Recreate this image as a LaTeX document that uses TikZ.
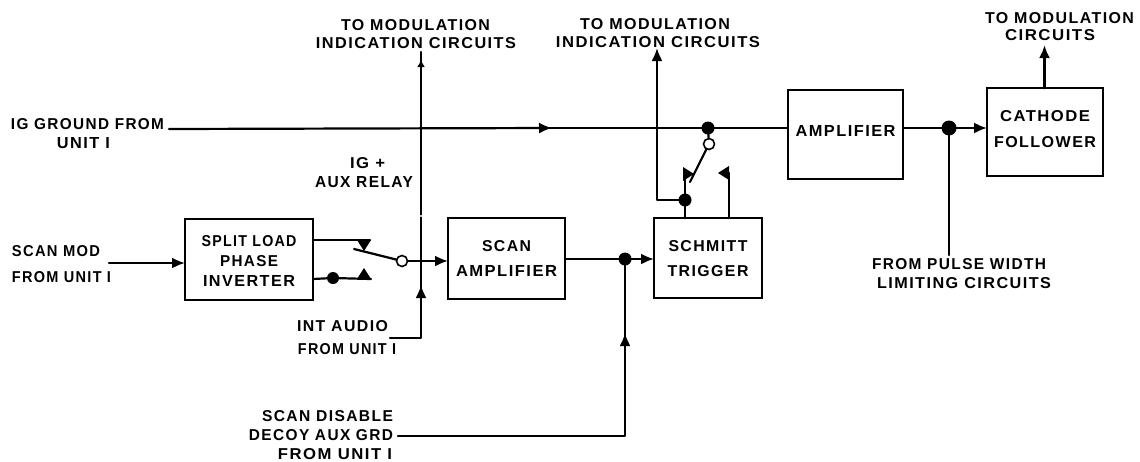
\documentclass[tikz,border=0pt]{standalone}
\usepackage{fontspec}
\usepackage{graphicx}
\setmainfont[LetterSpace=9]{Liberation Sans}
\usetikzlibrary{arrows.meta}
\newcommand{\fitl}[3][0pt]{\raisebox{#1}[11pt][0pt]{\resizebox{#2pt}{11pt}{\bfseries #3}}}
\tikzset{
  conn/.style={line width=2.2pt,line cap=round,line join=round,black},
  cont/.style={conn,shorten <=-6pt},
  arr/.style={conn,-{Latex[length=13pt,width=11pt]}},
  blk/.style={draw=black,line width=2.4pt,inner sep=0pt,outer sep=0pt,align=center,rectangle},
  lbl/.style={inner sep=0pt,outer sep=0pt,anchor=center,align=center},
  dot/.style={circle,fill=black,draw=none,minimum size=13pt,inner sep=0pt,outer sep=0pt},
  opendot/.style={circle,fill=white,draw=black,line width=1.6pt,minimum size=11pt,inner sep=0pt,outer sep=0pt},
  tri/.style={fill=black,draw=none}
}
\begin{document}
\begin{tikzpicture}[x=1pt,y=-1pt]
\useasboundingbox (0,0) rectangle (1140,461);
% blocks
\node[blk,minimum width=128pt,minimum height=81pt,font=\fontsize{15}{20}\selectfont] (split) at (249,259.5)
  {\fitl[-1.5pt]{95}{SPLIT LOAD}\\\fitl[-1.5pt]{58}{PHASE}\\\fitl[-1.5pt]{92}{INVERTER}};
\node[blk,minimum width=117pt,minimum height=81pt,font=\fontsize{15}{25}\selectfont] (scan) at (506.5,258.5)
  {\fitl{49}{SCAN}\\\fitl{101}{AMPLIFIER}};
\node[blk,minimum width=108pt,minimum height=80pt,font=\fontsize{15}{25}\selectfont] (schmitt) at (708,258)
  {\fitl{79}{SCHMITT}\\\fitl{81}{TRIGGER}};
\node[blk,minimum width=115pt,minimum height=89pt,font=\fontsize{15}{25}\selectfont] (amp) at (845.5,134.5)
  {\fitl[3.5pt]{100}{AMPLIFIER}};
\node[blk,minimum width=116pt,minimum height=88pt,font=\fontsize{15}{26}\selectfont] (cath) at (1045,132)
  {\fitl[3pt]{90}{CATHODE}\\\fitl[3pt]{102}{FOLLOWER}};
% labels
\node[lbl] (tA1) at (415.5,25) {\fitl{149}{TO MODULATION}};
\node[lbl] (tA2) at (416,43) {\fitl{200}{INDICATION CIRCUITS}};
\node[lbl] (tB1) at (655,24) {\fitl{150}{TO MODULATION}};
\node[lbl] (tB2) at (658,42) {\fitl{204}{INDICATION CIRCUITS}};
\node[lbl] (tC1) at (1059.5,18) {\fitl{149}{TO MODULATION}};
\node[lbl] (tC2) at (1050,35) {\fitl{90}{CIRCUITS}};
\node[lbl] (tD1) at (87.5,124) {\fitl{153}{IG GROUND FROM}};
\node[lbl] (tD2) at (83.5,143) {\fitl{53}{UNIT I}};
\node[lbl] (tE1) at (367.5,163) {\fitl{35}{IG +}};
\node[lbl] (tE2) at (364,182) {\fitl{98}{AUX RELAY}};
\node[lbl] (tF1) at (56,251) {\fitl{88}{SCAN MOD}};
\node[lbl] (tF2) at (61.5,277) {\fitl{99}{FROM UNIT I}};
\node[lbl] (tG1) at (342.5,326) {\fitl{91}{INT AUDIO}};
\node[lbl] (tG2) at (347,349) {\fitl{98}{FROM UNIT I}};
\node[lbl] (tH1) at (327.5,416) {\fitl{131}{SCAN DISABLE}};
\node[lbl] (tH2) at (321,435) {\fitl{144}{DECOY AUX GRD}};
\node[lbl] (tH3) at (335,453.5) {\fitl{114}{FROM UNIT I}};
\node[lbl] (tI1) at (959,264) {\fitl{174}{FROM PULSE WIDTH}};
\node[lbl] (tI2) at (964,283) {\fitl{174}{LIMITING CIRCUITS}};
% dots and contacts
\node[dot] (dA) at (708,128) {};
\node[dot,minimum size=15pt] (dB) at (949,128) {};
\node[dot] (dC) at (625,259) {};
\node[dot] (dD) at (685,200) {};
\node[dot,minimum size=12pt] (dE) at (333,278) {};
\node[opendot] (oA) at (402,261) {};
\node[opendot] (oB) at (709,144) {};
% free ends
\coordinate (igL) at (169,129);
\coordinate (igM) at (552,128);
\coordinate (scanIn) at (109,263);
\coordinate (vTop) at (421,52);
\coordinate (vHead) at (421,60);
\coordinate (vGap) at (421,214.5);
\coordinate (vLow) at (421,217.5);
\coordinate (vAudio) at (421,285);
\coordinate (audioCorner) at (421,338);
\coordinate (audioEnd) at (390,338);
\coordinate (discEnd) at (398,436);
\coordinate (discCorner) at (625,436);
\coordinate (discHead) at (625,333);
\coordinate (upCorner) at (657,200);
\coordinate (upTip) at (657,48);
\coordinate (pulseEnd) at (949,255);
\coordinate (modTip) at (1044.5,45);
\coordinate (upC) at (357,240);
\coordinate (lowC) at (371,279);
\coordinate (blA) at (354,249);
\coordinate (blB) at (690,182);
\coordinate (stemA) at (685,175);
\coordinate (stemB) at (729,173);
% IG ground line
\draw[arr] (igL) -- (igM);
\draw[cont] (igM) -- (dA -| amp.west);
% amplifier to cathode follower
\draw[conn] (dB -| amp.east) -- (dB);
\draw[arr] (dB) -- (dB -| cath.west);
\draw[conn] (dB) -- (pulseEnd);
\draw[arr,line width=2.8pt] (cath.north -| modTip) -- (modTip);
% scan mod in
\draw[arr] (scanIn) -- (scanIn -| split.west);
% upper and lower contacts of first switch
\draw[conn] (upC -| split.east) -- (370,240);
\fill[tri] (357,240) -- (371,240) -- (364,251) -- cycle;
\draw[conn] (split.east |- lowC) -- (dE) -- (lowC);
\fill[tri] (357,279) -- (371,279) -- (364,268) -- cycle;
\draw[conn] (blA) -- (oA);
\draw[arr] (oA) -- (oA -| scan.west);
% vertical line
\draw[conn,-{Latex[length=7pt,width=8pt]}] (vGap) -- (vHead);
\draw[cont] (vHead) -- (vTop);
\draw[arr] (audioEnd) -- (audioCorner) -- (vAudio);
\draw[cont] (vAudio) -- (vLow);
% scan amp to schmitt
\draw[conn] (dC -| scan.east) -- (dC);
\draw[arr] (dC) -- (dC -| schmitt.west);
\draw[arr] (discEnd) -- (discCorner) -- (discHead);
\draw[cont] (discHead) -- (dC);
% second switch
\draw[conn] (dD) -- (dD |- schmitt.north);
\draw[conn] (dD) -- (stemA);
\fill[tri] (683,167) -- (683,181) -- (694,174) -- cycle;
\draw[conn] (stemB) -- (stemB |- schmitt.north);
\fill[tri] (729,166) -- (729,180) -- (718,173) -- cycle;
\draw[arr] (dD) -- (upCorner) -- (upTip);
\draw[conn] (blB) -- (oB);
\draw[conn] (oB) -- (dA);
\end{tikzpicture}
\end{document}
